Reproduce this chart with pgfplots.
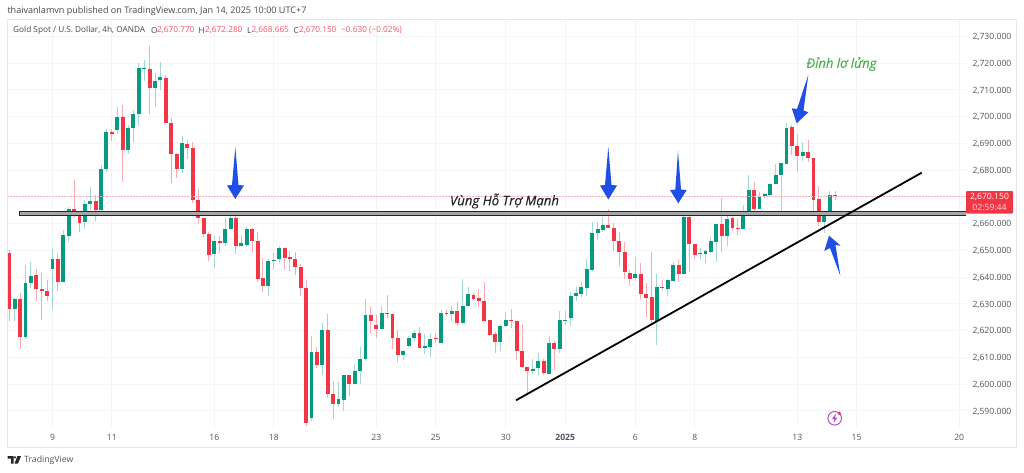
\documentclass[border=0pt]{standalone}
\usepackage{pgfplots}
\usepackage{pgfplotstable}
\usepackage{fontspec}
\pgfplotsset{compat=1.18}
\setmainfont{Open Sans}
\newfontfamily\annotfont[ItalicFeatures={FakeBold=0.35}]{Open Sans}
\definecolor{tvred}{HTML}{F23645}
\definecolor{tvgreen}{HTML}{089981}
\definecolor{tvredw}{HTML}{F9A9B0}
\definecolor{tvgreenw}{HTML}{A3D9CE}
\definecolor{tvgrid}{HTML}{F3F4F8}
\definecolor{tvborder}{HTML}{E6E8EE}
\definecolor{tvtext}{HTML}{50535E}
\definecolor{arrowblue}{HTML}{1F4FE6}
\definecolor{hdrred}{HTML}{F7525F}
\definecolor{annotgreen}{HTML}{4CAF50}
\definecolor{iconpurple}{HTML}{B24BCF}
\definecolor{priceline}{HTML}{FAB4BA}
\pgfplotstableread{
i o h l c
1 2627.9 2632.3 2623.7 2631.6
3 2617.4 2644.5 2616.9 2637.6
4 2637.6 2645.5 2635.8 2640.4
8 2642.9 2650.5 2627.7 2646.6
10 2638.2 2657.6 2638.2 2655.6
11 2655.5 2666.1 2653.2 2665.3
14 2660.7 2668.8 2658.0 2667.3
15 2667.3 2673.8 2665.0 2668.5
17 2665.0 2681.9 2664.5 2680.3
18 2680.2 2695.5 2679.4 2694.1
20 2695.0 2703.5 2693.5 2699.7
22 2687.5 2696.8 2686.0 2695.6
23 2695.6 2702.4 2690.6 2700.8
24 2700.8 2719.9 2696.6 2718.0
25 2717.9 2721.2 2713.3 2718.2
27 2710.8 2716.2 2703.7 2713.3
28 2713.6 2720.3 2710.0 2714.7
32 2680.4 2692.8 2679.0 2690.0
38 2648.6 2655.4 2643.5 2653.5
40 2652.7 2662.0 2651.6 2658.0
41 2658.0 2664.1 2657.4 2662.0
43 2651.7 2655.7 2651.6 2652.6
44 2652.0 2658.6 2651.1 2658.0
48 2636.8 2646.8 2633.0 2645.9
49 2645.8 2648.9 2643.0 2646.5
50 2646.6 2651.6 2645.1 2651.0
56 2587.2 2618.0 2586.3 2611.9
58 2607.1 2622.7 2603.4 2620.2
61 2592.5 2600.9 2591.5 2594.4
62 2594.0 2603.5 2589.7 2603.5
64 2600.1 2607.5 2600.0 2604.9
65 2604.9 2614.0 2600.0 2609.5
66 2609.4 2631.7 2608.6 2625.6
69 2620.6 2629.2 2620.6 2626.6
73 2610.9 2612.7 2609.0 2612.5
74 2614.3 2618.0 2613.7 2617.2
75 2617.2 2620.2 2615.6 2619.2
77 2613.4 2618.5 2611.2 2614.2
78 2613.9 2619.1 2610.2 2616.8
80 2615.2 2627.6 2615.2 2626.6
82 2626.0 2629.2 2623.5 2627.1
84 2622.8 2639.1 2622.4 2629.2
85 2629.2 2636.1 2629.2 2633.5
91 2615.7 2622.4 2612.4 2621.8
92 2621.8 2627.0 2621.4 2624.0
97 2604.9 2609.2 2603.6 2605.6
98 2605.8 2611.4 2603.3 2608.5
100 2603.9 2618.0 2603.7 2615.2
102 2613.0 2627.4 2611.4 2623.9
103 2623.9 2627.4 2622.0 2624.1
104 2624.8 2634.5 2621.6 2632.9
105 2632.9 2636.3 2631.1 2634.0
106 2633.6 2638.2 2632.6 2636.1
107 2636.0 2646.9 2632.9 2642.8
108 2642.6 2660.4 2642.2 2656.3
109 2656.3 2660.4 2653.8 2657.9
110 2657.5 2662.5 2656.9 2659.3
116 2639.7 2647.3 2638.6 2641.1
120 2623.6 2641.1 2614.5 2636.3
122 2635.5 2639.4 2632.8 2638.7
123 2638.6 2645.7 2638.2 2644.3
125 2641.3 2664.0 2641.3 2662.3
128 2648.5 2651.0 2646.9 2648.8
129 2648.7 2650.0 2645.3 2649.7
130 2649.5 2655.0 2648.8 2653.4
131 2653.2 2659.9 2645.7 2659.9
133 2655.3 2663.8 2651.5 2661.5
136 2658.1 2666.9 2658.1 2664.8
137 2664.6 2678.1 2664.6 2672.5
139 2665.6 2671.9 2665.6 2670.0
140 2670.1 2671.2 2669.7 2670.9
141 2670.6 2675.2 2670.6 2674.8
142 2674.8 2682.1 2674.7 2678.3
143 2678.1 2682.5 2664.4 2682.5
144 2682.2 2697.7 2682.2 2695.8
147 2685.3 2690.6 2683.3 2686.7
151 2660.6 2663.8 2656.5 2663.0
152 2663.9 2672.0 2663.9 2670.5
}\greencandles
\pgfplotstableread{
i o h l c
0 2648.8 2650.1 2623.7 2627.9
2 2631.9 2633.9 2612.9 2617.4
5 2640.6 2642.9 2631.2 2635.6
6 2635.6 2641.6 2623.9 2634.8
7 2634.8 2638.9 2631.2 2633.0
9 2646.6 2648.6 2634.8 2638.2
12 2665.3 2676.3 2662.6 2662.8
13 2664.5 2664.5 2656.7 2660.1
16 2668.5 2670.7 2661.1 2665.0
19 2694.2 2695.5 2690.9 2693.6
21 2699.7 2704.3 2675.5 2687.5
26 2717.7 2726.2 2700.8 2710.8
29 2714.3 2715.6 2697.5 2697.5
30 2697.5 2699.4 2675.1 2686.0
31 2686.0 2686.5 2676.9 2680.5
33 2689.8 2691.3 2684.3 2688.1
34 2688.1 2690.3 2667.6 2668.8
35 2668.8 2672.9 2659.7 2662.0
36 2662.0 2662.0 2654.9 2656.1
37 2656.1 2657.0 2646.1 2648.4
39 2653.5 2655.4 2649.5 2652.7
42 2662.0 2663.2 2648.5 2651.7
45 2658.1 2658.5 2649.1 2653.6
46 2653.6 2657.0 2638.5 2639.4
47 2639.5 2647.0 2634.5 2636.8
51 2650.9 2650.9 2642.6 2647.1
52 2647.4 2649.7 2642.3 2646.6
53 2646.6 2649.5 2640.9 2643.9
54 2643.9 2644.9 2633.0 2635.8
55 2635.9 2638.9 2584.2 2585.3
57 2611.9 2613.7 2606.1 2607.1
59 2620.2 2626.2 2595.3 2596.1
60 2596.1 2600.6 2587.0 2592.5
63 2603.5 2603.5 2595.5 2600.1
67 2625.6 2629.2 2619.2 2623.4
68 2621.9 2625.8 2617.3 2620.7
70 2626.6 2633.2 2624.6 2626.1
71 2626.2 2626.2 2613.1 2617.2
72 2617.2 2620.0 2608.1 2611.0
76 2619.2 2621.4 2613.3 2613.5
79 2617.2 2619.1 2615.2 2616.7
81 2626.6 2627.6 2625.4 2626.1
83 2627.1 2630.7 2621.6 2622.8
86 2633.1 2633.9 2631.4 2631.9
87 2632.1 2635.4 2628.9 2631.1
88 2631.2 2638.0 2623.3 2623.6
89 2623.8 2623.8 2618.0 2618.4
90 2618.5 2619.5 2611.7 2615.5
93 2624.1 2627.9 2620.8 2623.6
94 2623.6 2623.6 2608.9 2612.5
95 2612.5 2622.3 2606.1 2606.4
96 2606.4 2606.4 2596.2 2604.9
99 2608.5 2609.2 2603.3 2604.2
101 2615.2 2616.2 2605.2 2613.0
111 2659.3 2665.3 2658.4 2658.4
112 2658.4 2660.0 2649.8 2653.3
113 2653.3 2656.9 2644.1 2649.4
114 2649.4 2653.2 2639.1 2641.7
115 2641.6 2642.6 2636.7 2639.4
117 2641.1 2645.1 2631.6 2633.6
118 2633.7 2637.6 2625.1 2632.3
119 2632.6 2649.4 2622.0 2624.1
121 2636.3 2638.8 2635.1 2635.7
124 2644.3 2646.3 2638.0 2641.3
126 2662.3 2662.8 2641.9 2652.2
127 2652.3 2652.3 2646.9 2648.2
132 2659.9 2669.7 2649.4 2655.3
134 2662.0 2662.3 2657.3 2658.4
135 2658.4 2661.9 2655.7 2658.0
138 2672.5 2675.6 2662.9 2665.6
145 2695.9 2696.9 2685.6 2688.9
146 2688.9 2693.3 2679.3 2685.3
148 2686.7 2691.2 2683.1 2684.6
149 2684.6 2684.6 2664.4 2668.9
150 2669.0 2674.0 2659.0 2660.6
153 2670.77 2672.28 2668.67 2670.15
}\redcandles
\begin{document}
\begin{tikzpicture}[x=1pt,y=1pt]
\path (0,0) rectangle (1024,472);
\begin{axis}[
  at={(7.3pt,45pt)}, anchor=south west, scale only axis,
  width=958.7pt, height=408pt,
  xmin=-0.37, xmax=177.26, ymin=2583.9, ymax=2736.47,
  axis line style={draw=none},
  major tick length=0pt,
  grid=major, grid style={draw=tvgrid,line width=0.8pt},
  ytick={2590,2600,2610,2620,2630,2640,2650,2660,2680,2690,2700,2710,2720,2730},
  extra y ticks={2670},
  extra y tick labels={},
  yticklabel pos=right,
  /pgf/number format/fixed,
  /pgf/number format/fixed zerofill,
  /pgf/number format/precision=3,
  /pgf/number format/1000 sep={,},
  /pgf/number format/assume math mode=true,
  yticklabel style={font=\fontsize{8.6pt}{10pt}\selectfont,text=tvtext,anchor=west,xshift=3pt,yshift=-0.8pt},
  xtick={8,19,38,49,68,79,92,103,116,127,146,157,176},
  xticklabels={9,11,16,18,23,25,30,\textbf{2025},6,8,13,15,20},
  xticklabel style={font=\fontsize{8.6pt}{10pt}\selectfont,text=tvtext,yshift=-3.5pt},
  clip=true, axis on top=false,
]
\addplot[draw=none,forget plot,error bars/.cd,y dir=plus,y explicit,error mark=none,
  error bar style={draw=tvgreenw,line width=1pt}]
  table[x=i,y=l,y error plus expr=\thisrow{h}-\thisrow{l}] {\greencandles};
\addplot[draw=none,forget plot,error bars/.cd,y dir=plus,y explicit,error mark=none,
  error bar style={draw=tvredw,line width=1pt}]
  table[x=i,y=l,y error plus expr=\thisrow{h}-\thisrow{l}] {\redcandles};
\addplot[draw=none,forget plot,error bars/.cd,y dir=plus,y explicit,error mark=none,
  error bar style={draw=tvgreen,line width=3.9pt}]
  table[x=i,y=o,y error plus expr=\thisrow{c}-\thisrow{o}] {\greencandles};
\addplot[draw=none,forget plot,error bars/.cd,y dir=plus,y explicit,error mark=none,
  error bar style={draw=tvred,line width=3.9pt}]
  table[x=i,y=c,y error plus expr=\thisrow{o}-\thisrow{c}] {\redcandles};
% last price line
\addplot[forget plot,draw=priceline,line width=0.6pt,dash pattern=on 1.5pt off 1.5pt] coordinates {(-0.37,2670.15) (177.26,2670.15)};
% support zone
\addplot[forget plot,draw=black!85,fill=black!35,line width=1pt] coordinates {(1.89,2664.3) (178,2664.3) (178,2662.9) (1.89,2662.9)} -- cycle;
% trend line
\addplot[forget plot,draw=black,line width=1.8pt] coordinates {(93.9,2593.9) (169.06,2679.0)};
\end{axis}
\begin{scope}[shift={(0,472)},y=-1pt,x=1pt]
% frame
\draw[tvborder,line width=0.8pt] (7.3,19) rectangle (1016.7,447);
% arrows
\fill[arrowblue] (235.3,147) -- (238.5,185) -- (244,185.5) -- (235.3,199) -- (227,185.5) -- (232,185) -- cycle;
\fill[arrowblue] (608.3,147) -- (611.5,185) -- (617,185.5) -- (608.3,199.5) -- (600,185.5) -- (605,185) -- cycle;
\fill[arrowblue] (678,151) -- (681,189.5) -- (686.7,190) -- (678.3,203.3) -- (670,190) -- (675.3,189.5) -- cycle;
\fill[arrowblue] (808.3,75) -- (803.5,110.5) -- (808.3,112.3) -- (796.7,123.3) -- (791.7,108.3) -- (797,109) -- cycle;
\fill[arrowblue] (829,235.7) -- (840.7,245.7) -- (835.5,245) -- (840.3,275.7) -- (830,248) -- (824.3,251) -- cycle;
% annotations
\node[anchor=center,font=\annotfont\itshape\fontsize{13.2pt}{15pt}\selectfont,text=black!85] at (504.5,201) {Vùng Hỗ Trợ Mạnh};
\node[anchor=center,font=\annotfont\itshape\fontsize{13pt}{15pt}\selectfont,text=annotgreen] at (841.5,64) {Đỉnh lơ lửng};
% last price tag
\fill[tvred,rounded corners=1pt] (966,191) rectangle (1013,213.7);
\node[anchor=center,font=\fontsize{8.6pt}{10pt}\selectfont,text=white] at (989.5,196.8) {2,670.150};
\node[anchor=center,font=\fontsize{8.6pt}{10pt}\selectfont,text=white!80!tvred] at (989.5,207.5) {02:59:44};
% header
\node[anchor=west,inner sep=0pt,font=\fontsize{9.05pt}{10pt}\selectfont,text=tvtext!85!black] at (7.3,11) {thaivanlamvn published on TradingView.com, Jan 14, 2025 10:00 UTC+7};
\node[anchor=west,inner sep=0pt,font=\fontsize{8.25pt}{10pt}\selectfont,text=tvtext!85!black] at (13,30.5) {Gold Spot / U.S. Dollar, 4h, OANDA};
\node[anchor=west,inner sep=0pt,font=\fontsize{8.25pt}{10pt}\selectfont,text=tvtext!85!black] at (151,30.5) {O};
\node[anchor=west,inner sep=0pt,font=\fontsize{8.25pt}{10pt}\selectfont,text=hdrred] at (157,30.5) {2,670.770};
\node[anchor=west,inner sep=0pt,font=\fontsize{8.25pt}{10pt}\selectfont,text=tvtext!85!black] at (198.5,30.5) {H};
\node[anchor=west,inner sep=0pt,font=\fontsize{8.25pt}{10pt}\selectfont,text=hdrred] at (205,30.5) {2,672.280};
\node[anchor=west,inner sep=0pt,font=\fontsize{8.25pt}{10pt}\selectfont,text=tvtext!85!black] at (247,30.5) {L};
\node[anchor=west,inner sep=0pt,font=\fontsize{8.25pt}{10pt}\selectfont,text=hdrred] at (251.5,30.5) {2,668.665};
\node[anchor=west,inner sep=0pt,font=\fontsize{8.25pt}{10pt}\selectfont,text=tvtext!85!black] at (293.5,30.5) {C};
\node[anchor=west,inner sep=0pt,font=\fontsize{8.25pt}{10pt}\selectfont,text=hdrred] at (299,30.5) {2,670.150};
\node[anchor=west,inner sep=0pt,font=\fontsize{8.25pt}{10pt}\selectfont,text=hdrred] at (341,30.5) {−0.630 (−0.02\%)};
% icon
\draw[color=iconpurple,line width=1pt] (834.7,418.3) circle (6.8);
\fill[color=iconpurple] (836,413.5) -- (832,419) -- (834.4,419) -- (833.4,423) -- (837.4,417.5) -- (835,417.5) -- cycle;
\fill[tvred] (839.3,413.3) circle (1.8);
% footer
\node[anchor=west,inner sep=0pt,font=\fontsize{8.7pt}{10pt}\selectfont,text=tvtext] at (24,460) {TradingView};
\fill[black!85] (7.5,456) -- (13.5,456) -- (13.5,463.5) -- (11,463.5) -- (11,458.5) -- (7.5,458.5) -- cycle;
\fill[black!85] (15,457.3) circle (1.3);
\fill[black!85] (14.5,463.5) -- (17.5,456) -- (21,456) -- (18,463.5) -- cycle;
\end{scope}
\end{tikzpicture}
\end{document}
